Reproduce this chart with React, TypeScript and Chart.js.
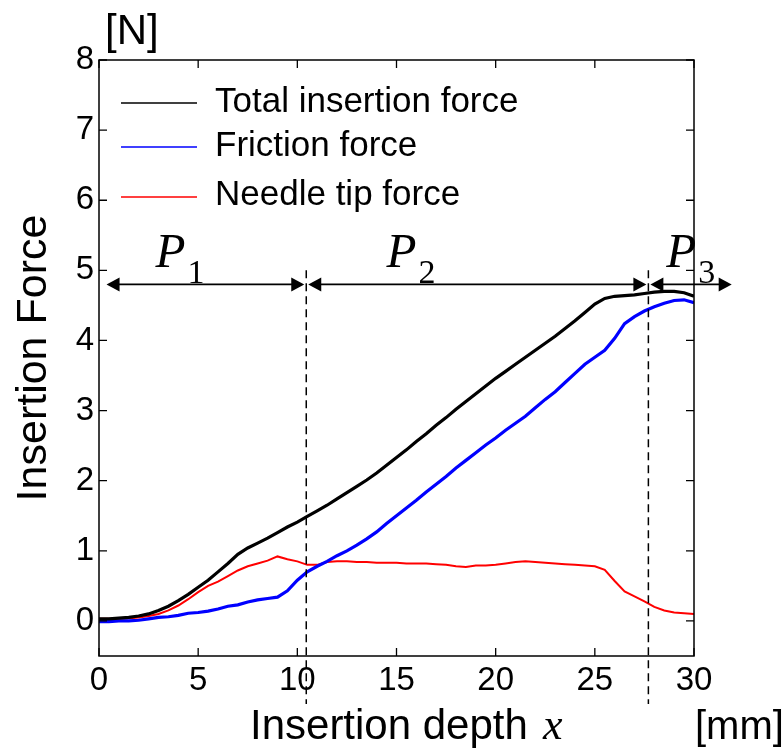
import React, { useEffect, useRef } from "react";
import { Chart, registerables } from "chart.js";

Chart.register(...registerables);

// ---- data ----
const depthMm = [
  0, 0.5, 1, 1.5, 2, 2.5, 3, 3.5, 4, 4.5, 5, 5.5, 6, 6.5, 7, 7.5, 8, 8.5, 9, 9.5,
  10, 10.5, 11, 11.5, 12, 12.5, 13, 13.5, 14, 14.5, 15, 15.5, 16, 16.5, 17, 17.5, 18, 18.5, 19, 19.5,
  20, 20.5, 21, 21.5, 22, 22.5, 23, 23.5, 24, 24.5, 25, 25.5, 26, 26.5, 27, 27.5, 28, 28.5, 29, 29.5, 30,
];

const totalForce = [
  0.03, 0.03, 0.04, 0.05, 0.07, 0.1, 0.15, 0.21, 0.29, 0.38, 0.48, 0.58, 0.7, 0.82, 0.95, 1.04, 1.11, 1.18, 1.26, 1.34,
  1.41, 1.49, 1.57, 1.65, 1.74, 1.83, 1.92, 2.01, 2.11, 2.22, 2.33, 2.44, 2.56, 2.67, 2.79, 2.9, 3.02, 3.13, 3.24, 3.35,
  3.46, 3.56, 3.66, 3.76, 3.86, 3.96, 4.06, 4.17, 4.28, 4.4, 4.52, 4.6, 4.63, 4.64, 4.65, 4.67, 4.69, 4.7, 4.7, 4.68, 4.63,
];

const frictionForce = [
  -0.01, -0.01, 0.0, 0.0, 0.01, 0.03, 0.05, 0.06, 0.08, 0.11, 0.12, 0.14, 0.17, 0.21, 0.23, 0.27, 0.3, 0.32, 0.34, 0.43,
  0.58, 0.7, 0.78, 0.85, 0.93, 1.0, 1.08, 1.17, 1.27, 1.39, 1.5, 1.61, 1.72, 1.84, 1.95, 2.06, 2.18, 2.29, 2.4, 2.51,
  2.61, 2.72, 2.82, 2.92, 3.04, 3.16, 3.27, 3.4, 3.53, 3.66, 3.76, 3.86, 4.03, 4.24, 4.34, 4.42, 4.48, 4.53, 4.57, 4.58, 4.54,
];

const tipForce = [
  0.03, 0.03, 0.03, 0.04, 0.05, 0.07, 0.1, 0.15, 0.22, 0.31, 0.41, 0.5, 0.56, 0.64, 0.72, 0.78, 0.82, 0.86, 0.92, 0.88,
  0.85, 0.8, 0.8, 0.84, 0.85, 0.85, 0.84, 0.84, 0.83, 0.83, 0.83, 0.82, 0.82, 0.82, 0.81, 0.8, 0.78, 0.77, 0.79, 0.79,
  0.8, 0.82, 0.84, 0.85, 0.84, 0.83, 0.82, 0.81, 0.8, 0.79, 0.78, 0.73, 0.57, 0.42, 0.35, 0.28, 0.2, 0.15, 0.12, 0.11, 0.1,
];

const seriesLabels = ["Total insertion force", "Friction force", "Needle tip force"];
const seriesColors = ["#000000", "#0000ff", "#ff0000"];

const xTickValues = [0, 5, 10, 15, 20, 25, 30];
const yTickValues = [0, 1, 2, 3, 4, 5, 6, 7, 8];

const phaseBoundaries = [10.45, 27.7];
const phaseStarts = [0.38, 10.45, 27.7];
const phaseEnds = [10.45, 27.7, 31.9];
const phaseLabelX = [2.85, 14.5, 28.6];
const phaseSubscripts = ["1", "2", "3"];
const arrowLevel = 4.8;
const dashTopLevel = 5.0;

const SANS = '"Liberation Sans", Arial, sans-serif';
const SERIF = '"Liberation Serif", "Times New Roman", serif';

const overlayPlugin = {
  id: "overlay",
  afterDraw(chart: any) {
    const { ctx, chartArea: a, scales } = chart;
    const xs = scales.x;
    const ys = scales.y;
    ctx.save();

    // frame
    ctx.strokeStyle = "#000";
    ctx.lineWidth = 1.5;
    ctx.setLineDash([]);
    ctx.strokeRect(a.left, a.top, a.right - a.left, a.bottom - a.top);

    // inward ticks on all four sides
    const tl = 8;
    ctx.lineWidth = 1.3;
    ctx.beginPath();
    xTickValues.forEach((v) => {
      const px = xs.getPixelForValue(v);
      ctx.moveTo(px, a.bottom);
      ctx.lineTo(px, a.bottom - tl);
      ctx.moveTo(px, a.top);
      ctx.lineTo(px, a.top + tl);
    });
    yTickValues.forEach((v) => {
      const py = ys.getPixelForValue(v);
      ctx.moveTo(a.left, py);
      ctx.lineTo(a.left + tl, py);
      ctx.moveTo(a.right, py);
      ctx.lineTo(a.right - tl, py);
    });
    ctx.stroke();

    // dashed phase boundaries
    ctx.lineWidth = 1.5;
    ctx.setLineDash([8, 5]);
    ctx.beginPath();
    phaseBoundaries.forEach((v) => {
      const px = xs.getPixelForValue(v);
      ctx.moveTo(px, ys.getPixelForValue(dashTopLevel));
      ctx.lineTo(px, a.bottom + 48);
    });
    ctx.stroke();
    ctx.setLineDash([]);

    // double headed arrows
    const ay = ys.getPixelForValue(arrowLevel);
    const head = 13;
    const hw = 7;
    ctx.fillStyle = "#000";
    ctx.lineWidth = 1.6;
    phaseStarts.forEach((s, i) => {
      const x1 = xs.getPixelForValue(s) + (i === 0 ? 0 : 2);
      const x2 = xs.getPixelForValue(phaseEnds[i]) - (i === phaseStarts.length - 1 ? 0 : 2);
      ctx.beginPath();
      ctx.moveTo(x1 + head - 1, ay);
      ctx.lineTo(x2 - head + 1, ay);
      ctx.stroke();
      ctx.beginPath();
      ctx.moveTo(x1, ay);
      ctx.lineTo(x1 + head, ay - hw);
      ctx.lineTo(x1 + head, ay + hw);
      ctx.closePath();
      ctx.fill();
      ctx.beginPath();
      ctx.moveTo(x2, ay);
      ctx.lineTo(x2 - head, ay - hw);
      ctx.lineTo(x2 - head, ay + hw);
      ctx.closePath();
      ctx.fill();
    });

    // phase labels P1 P2 P3
    ctx.textAlign = "left";
    ctx.textBaseline = "alphabetic";
    phaseLabelX.forEach((v, i) => {
      const px = xs.getPixelForValue(v);
      ctx.font = `italic 49px ${SERIF}`;
      ctx.fillText("P", px, ay - 17);
      ctx.font = `34px ${SERIF}`;
      ctx.fillText(phaseSubscripts[i], px + 32, ay - 1);
    });

    // legend
    ctx.font = `35px ${SANS}`;
    const legendLineY = [103, 147, 197];
    const legendBase = [112, 156, 205];
    seriesLabels.forEach((lab, i) => {
      ctx.strokeStyle = seriesColors[i];
      ctx.lineWidth = 1.6;
      ctx.beginPath();
      ctx.moveTo(a.left + 22, legendLineY[i]);
      ctx.lineTo(a.left + 98, legendLineY[i]);
      ctx.stroke();
      ctx.fillStyle = "#000";
      ctx.fillText(lab, a.left + 116, legendBase[i]);
    });

    // axis titles / units
    ctx.fillStyle = "#000";
    ctx.font = `42px ${SANS}`;
    ctx.fillText("Insertion depth", 250, 739);
    ctx.font = `italic 44px ${SERIF}`;
    ctx.fillText("x", 543, 739);
    ctx.font = `40px ${SANS}`;
    ctx.fillText("[mm]", 695, 739);
    ctx.font = `42px ${SANS}`;
    ctx.fillText("[N]", 105, 44);

    ctx.restore();
  },
};

export default function App() {
  const canvasRef = useRef<HTMLCanvasElement | null>(null);

  useEffect(() => {
    if (!canvasRef.current) return;
    const seriesValues = [totalForce, frictionForce, tipForce];
    const chart = new Chart(canvasRef.current, {
      type: "line",
      data: {
        datasets: seriesValues.map((vals, i) => ({
          label: seriesLabels[i],
          data: depthMm.map((d, j) => ({ x: d, y: vals[j] })),
          borderColor: seriesColors[i],
          backgroundColor: seriesColors[i],
          borderWidth: i === 2 ? 2 : 3.2,
          pointRadius: 0,
          tension: 0,
          fill: false,
        })),
      },
      options: {
        responsive: false,
        animation: false,
        layout: { padding: { left: 0, top: 60, right: 89, bottom: 0 } },
        plugins: {
          legend: { display: false },
          tooltip: { enabled: false },
        },
        scales: {
          x: {
            type: "linear",
            min: 0,
            max: 30,
            grid: { display: false, drawTicks: false },
            border: { display: false },
            afterBuildTicks: (axis: any) => {
              axis.ticks = xTickValues.map((v) => ({ value: v }));
            },
            afterFit: (axis: any) => {
              axis.height = 93;
            },
            ticks: {
              autoSkip: false,
              maxRotation: 0,
              padding: 5,
              color: "#000",
              font: { family: SANS, size: 33 },
            },
          },
          y: {
            type: "linear",
            min: -0.5,
            max: 8,
            grid: { display: false, drawTicks: false },
            border: { display: false },
            afterBuildTicks: (axis: any) => {
              axis.ticks = yTickValues.map((v) => ({ value: v }));
            },
            afterFit: (axis: any) => {
              axis.width = 99;
            },
            title: {
              display: true,
              text: "Insertion Force",
              color: "#000",
              font: { family: SANS, size: 43 },
              padding: { top: 8, bottom: 0 },
            },
            ticks: {
              autoSkip: false,
              padding: 5,
              color: "#000",
              font: { family: SANS, size: 33 },
            },
          },
        },
      },
      plugins: [overlayPlugin],
    });
    return () => chart.destroy();
  }, []);

  return (
    <div style={{ position: "absolute", left: 0, top: 0, width: 783, height: 749, background: "#fff" }}>
      <canvas ref={canvasRef} width={783} height={749} />
    </div>
  );
}
